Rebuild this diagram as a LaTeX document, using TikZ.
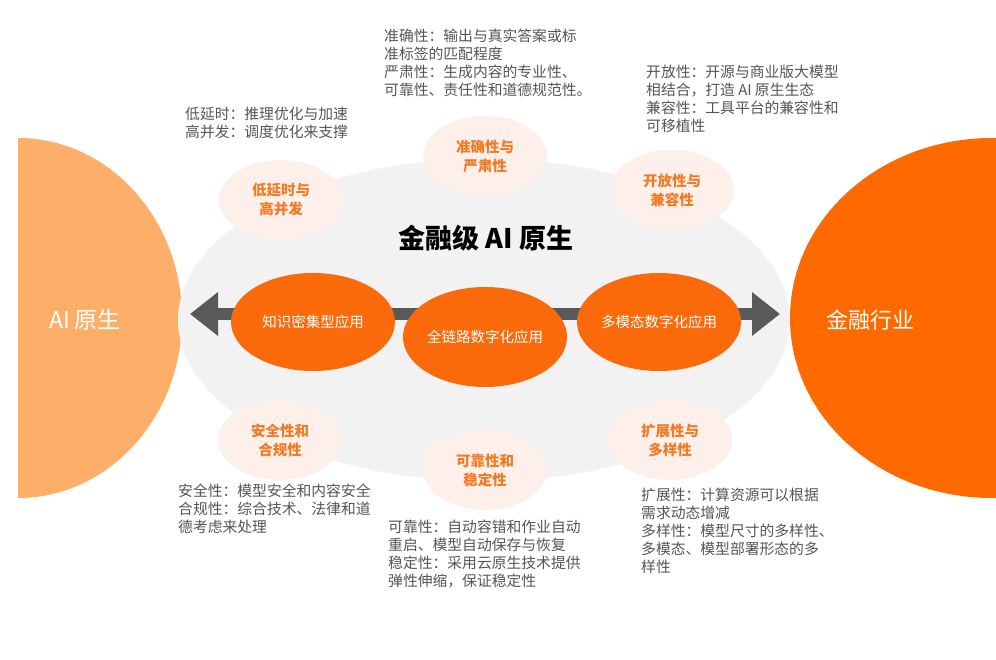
\documentclass[tikz,border=0pt]{standalone}
\usepackage{fontspec}
\setmainfont{Noto Sans CJK SC}
\usetikzlibrary{shapes.geometric,arrows.meta}
\definecolor{lightorg}{HTML}{FDAE68}
\definecolor{darkorg}{HTML}{FF6A00}
\definecolor{midorg}{HTML}{FA6A0A}
\definecolor{bggray}{HTML}{F2F2F2}
\definecolor{pinkbg}{HTML}{FDF0EA}
\definecolor{txtorg}{HTML}{F27A25}
\definecolor{txtgray}{HTML}{555555}
\definecolor{arrgray}{HTML}{595959}
\tikzset{
  pinkcirc/.style={ellipse, fill=pinkbg, minimum width=124pt, minimum height=80pt, inner sep=0pt,
    text=txtorg, font=\fontsize{14.5}{19}\selectfont\bfseries, align=center},
  appell/.style={ellipse, fill=midorg, minimum width=164pt, minimum height=98pt, inner sep=0pt,
    text=white, font=\fontsize{14.5}{18}\selectfont, align=center},
  desc/.style={anchor=north west, inner sep=0pt, text=txtgray, align=left,
    font=\fontsize{14.8}{18}\selectfont},
}
\begin{document}
\begin{tikzpicture}[x=1pt,y=-1pt]
\useasboundingbox[fill=white] (0,0) rectangle (996,660);
% side half discs
\begin{scope}
\clip (18,0) rectangle (996,660);
\fill[lightorg] (18,318) ellipse [x radius=164, y radius=180];
\fill[darkorg] (992,318) ellipse [x radius=202, y radius=180];
\end{scope}
\node[text=white, font=\fontsize{23}{26}\selectfont] (ai) at (85,320) {AI 原生};
\node[text=white, font=\fontsize{22}{26}\selectfont] (fin) at (870,320) {金融行业};
% big gray ellipse
\node[ellipse, fill=bggray, minimum width=612pt, minimum height=322pt, inner sep=0pt] (core) at (484,320) {};
\node[font=\fontsize{27}{30}\selectfont\bfseries] (title) at (486,238) {金融级 AI 原生};
% double arrow
\coordinate (al) at (190,314);
\coordinate (ar) at (780,314);
\draw[arrgray, line width=12pt, {Triangle[length=28pt,width=42pt]}-{Triangle[length=28pt,width=42pt]}] (al) -- (ar);
% application ellipses
\node[appell] (k) at (313,322) {知识密集型应用};
\node[appell] (f) at (659,322) {多模态数字化应用};
\node[appell, minimum height=100pt] (q) at (485,337) {全链路数字化应用};
% pink circles
\node[pinkcirc] (p1) at (281,200) {低延时与\\高并发};
\node[pinkcirc] (p2) at (485,156) {准确性与\\严肃性};
\node[pinkcirc] (p3) at (672,190) {开放性与\\兼容性};
\node[pinkcirc] (p4) at (280,440) {安全性和\\合规性};
\node[pinkcirc] (p5) at (485,470) {可靠性和\\稳定性};
\node[pinkcirc] (p6) at (670,440) {扩展性与\\多样性};
% descriptions
\node[desc] (d1) at (185,107) {低延时：推理优化与加速\\高并发：调度优化来支撑};
\node[desc] (d2) at (384,29) {准确性：输出与真实答案或标\\准标签的匹配程度\\严肃性：生成内容的专业性、\\可靠性、责任性和道德规范性。};
\node[desc] (d3) at (646,65) {开放性：开源与商业版大模型\\相结合，打造 AI 原生生态\\兼容性：工具平台的兼容性和\\可移植性};
\node[desc] (d4) at (178,484) {安全性：模型安全和内容安全\\合规性：综合技术、法律和道\\德考虑来处理};
\node[desc] (d5) at (388,520) {可靠性：自动容错和作业自动\\重启、模型自动保存与恢复\\稳定性：采用云原生技术提供\\弹性伸缩，保证稳定性};
\node[desc] (d6) at (641,488) {扩展性：计算资源可以根据\\需求动态增减\\多样性：模型尺寸的多样性、\\多模态、模型部署形态的多\\样性};
\end{tikzpicture}
\end{document}
